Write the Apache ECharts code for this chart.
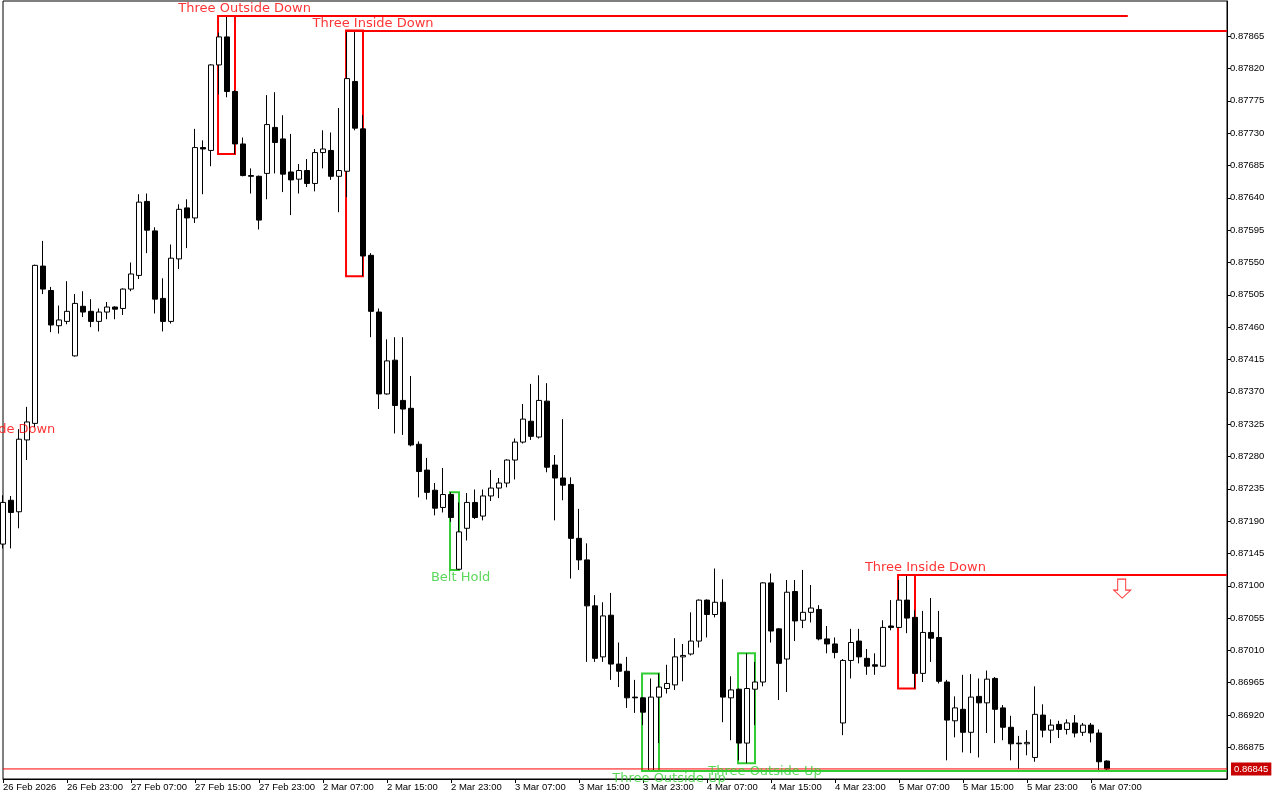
<!DOCTYPE html>
<html>
<head>
<meta charset="utf-8">
<title>H1 candles</title>
<script src="https://cdn.jsdelivr.net/npm/echarts@6.0.0/dist/echarts.min.js"></script>
<style>
  html, body { margin: 0; padding: 0; background: #fff; }
  #chart { width: 1280px; height: 800px; }
</style>
</head>
<body>
<div id="chart"></div>
<script>
// hourly bars, the first one opens 26 Feb 15:00
var days = ['26 Feb', '27 Feb', '2 Mar', '3 Mar', '4 Mar', '5 Mar', '6 Mar', '7 Mar'];
var firstHour = 15;
var slots = 154; // drawn bars plus the empty space on the right
var lastLabelBar = 136;

var open = [0.87158,0.87219,0.87203,0.87303,0.87326,0.87545,0.87511,0.87462,0.87468,0.87420,
  0.87489,0.87482,0.87468,0.87481,0.87488,0.87486,0.87513,0.87532,0.87635,0.87594,
  0.87500,0.87468,0.87555,0.87626,0.87612,0.87710,0.87706,0.87825,0.87864,0.87788,
  0.87715,0.87671,0.87670,0.87674,0.87738,0.87722,0.87676,0.87666,0.87678,0.87660,
  0.87703,0.87706,0.87670,0.87677,0.87802,0.87736,0.87560,0.87481,0.87367,0.87414,
  0.87358,0.87347,0.87297,0.87261,0.87233,0.87209,0.87227,0.87123,0.87180,0.87216,
  0.87197,0.87225,0.87236,0.87243,0.87275,0.87300,0.87329,0.87307,0.87357,0.87268,
  0.87250,0.87241,0.87166,0.87136,0.87072,0.87001,0.87059,0.86991,0.86981,0.86945,
  0.86944,0.86843,0.86945,0.86957,0.86962,0.87001,0.87005,0.87023,0.87080,0.87060,
  0.87077,0.86944,0.86956,0.86881,0.86956,0.86966,0.87104,0.87040,0.86998,0.87092,
  0.87052,0.87063,0.87067,0.87026,0.87019,0.86909,0.86996,0.87023,0.86999,0.86990,
  0.86988,0.87044,0.87042,0.87080,0.87056,0.86978,0.87035,0.87028,0.86966,0.86912,
  0.86928,0.86896,0.86946,0.86937,0.86971,0.86930,0.86903,0.86881,0.86880,0.86861,
  0.86920,0.86899,0.86907,0.86900,0.86909,0.86896,0.86906,0.86895,0.86856];
var high = [0.87226,0.87225,0.87318,0.87349,0.87547,0.87580,0.87516,0.87490,0.87524,0.87506,
  0.87510,0.87499,0.87486,0.87495,0.87489,0.87514,0.87550,0.87645,0.87646,0.87599,
  0.87528,0.87575,0.87631,0.87638,0.87736,0.87720,0.87826,0.87870,0.87893,0.87790,
  0.87724,0.87681,0.87671,0.87783,0.87787,0.87755,0.87729,0.87687,0.87694,0.87708,
  0.87734,0.87731,0.87765,0.87873,0.87873,0.87755,0.87563,0.87486,0.87443,0.87446,
  0.87446,0.87392,0.87301,0.87278,0.87243,0.87264,0.87230,0.87216,0.87229,0.87234,
  0.87234,0.87261,0.87250,0.87276,0.87305,0.87353,0.87381,0.87393,0.87382,0.87282,
  0.87332,0.87251,0.87207,0.87159,0.87087,0.87077,0.87090,0.87021,0.87001,0.86969,
  0.86945,0.86971,0.86978,0.86990,0.87027,0.87019,0.87063,0.87081,0.87081,0.87124,
  0.87109,0.86974,0.86957,0.87006,0.86994,0.87105,0.87117,0.87041,0.87108,0.87108,
  0.87122,0.87101,0.87073,0.87044,0.87028,0.86998,0.87040,0.87040,0.87012,0.87006,
  0.87052,0.87080,0.87108,0.87115,0.87066,0.87065,0.87083,0.87065,0.86969,0.86946,
  0.86976,0.86977,0.86971,0.86982,0.86973,0.86934,0.86919,0.86891,0.86899,0.86960,
  0.86935,0.86914,0.86912,0.86914,0.86920,0.86909,0.86909,0.86900,0.86857];
var low = [0.87152,0.87152,0.87180,0.87275,0.87321,0.87506,0.87453,0.87451,0.87464,0.87419,
  0.87474,0.87460,0.87454,0.87471,0.87471,0.87477,0.87510,0.87527,0.87563,0.87479,
  0.87454,0.87465,0.87541,0.87570,0.87605,0.87645,0.87684,0.87784,0.87780,0.87701,
  0.87670,0.87646,0.87596,0.87638,0.87674,0.87648,0.87616,0.87646,0.87655,0.87649,
  0.87681,0.87665,0.87620,0.87641,0.87734,0.87531,0.87446,0.87346,0.87366,0.87312,
  0.87310,0.87294,0.87223,0.87220,0.87198,0.87202,0.87189,0.87122,0.87163,0.87193,
  0.87191,0.87218,0.87222,0.87237,0.87248,0.87298,0.87303,0.87305,0.87258,0.87191,
  0.87219,0.87110,0.87122,0.86994,0.86994,0.86994,0.86969,0.86959,0.86930,0.86923,
  0.86906,0.86842,0.86881,0.86950,0.86955,0.86967,0.87003,0.87014,0.87028,0.87056,
  0.86910,0.86885,0.86857,0.86853,0.86906,0.86960,0.87021,0.86941,0.86952,0.87023,
  0.87041,0.87049,0.87024,0.87006,0.86999,0.86892,0.86971,0.86992,0.86976,0.86976,
  0.86987,0.87038,0.87041,0.87034,0.86957,0.86966,0.86994,0.86964,0.86857,0.86889,
  0.86868,0.86867,0.86861,0.86895,0.86881,0.86885,0.86857,0.86845,0.86864,0.86855,
  0.86889,0.86881,0.86888,0.86893,0.86889,0.86891,0.86882,0.86843,0.86843];
var close = [0.87216,0.87202,0.87304,0.87328,0.87546,0.87513,0.87463,0.87470,0.87482,0.87493,
  0.87481,0.87468,0.87481,0.87488,0.87485,0.87513,0.87534,0.87634,0.87595,0.87499,
  0.87468,0.87556,0.87624,0.87612,0.87710,0.87708,0.87825,0.87864,0.87788,0.87715,
  0.87671,0.87670,0.87609,0.87742,0.87717,0.87673,0.87665,0.87678,0.87660,0.87703,
  0.87708,0.87670,0.87678,0.87806,0.87737,0.87559,0.87482,0.87367,0.87413,0.87351,
  0.87346,0.87296,0.87259,0.87230,0.87208,0.87227,0.87195,0.87175,0.87216,0.87195,
  0.87225,0.87236,0.87243,0.87275,0.87300,0.87332,0.87308,0.87358,0.87265,0.87250,
  0.87240,0.87166,0.87136,0.87072,0.86999,0.87058,0.86991,0.86981,0.86944,0.86944,
  0.86924,0.86945,0.86959,0.86964,0.87001,0.87003,0.87023,0.87080,0.87060,0.87077,
  0.86945,0.86955,0.86881,0.86957,0.86966,0.87104,0.87037,0.86992,0.87091,0.87051,
  0.87063,0.87069,0.87026,0.87019,0.87007,0.86996,0.87021,0.87001,0.86988,0.86988,
  0.87042,0.87042,0.87080,0.87055,0.86978,0.87035,0.87027,0.86967,0.86913,0.86930,
  0.86896,0.86945,0.86937,0.86970,0.86928,0.86903,0.86880,0.86880,0.86882,0.86921,
  0.86899,0.86906,0.86900,0.86909,0.86895,0.86906,0.86895,0.86855,0.86845];

var yTicks = [0.86875,0.86920,0.86965,0.87010,0.87055,0.87100,0.87145,0.87190,0.87235,0.87280,
  0.87325,0.87370,0.87415,0.87460,0.87505,0.87550,0.87595,0.87640,0.87685,0.87730,
  0.87775,0.87820,0.87865];
var yMin = 0.86831, yMax = 0.87914;
var bid = 0.86845;

// candle patterns found by the indicator
var patName  = ['Three Outside Down', 'Three Inside Down', 'Belt Hold', 'Three Outside Up', 'Three Outside Up', 'Three Inside Down'];
var patFirst = [27, 43, 56, 80, 92, 112];
var patLast  = [29, 45, 57, 82, 94, 114];
var patUp    = [false, false, true, true, true, false];
var patTextAt = [30.2, 46.25, 57.2, 83.25, 95.25, 115.3];
// level lines drawn from a pattern box: [pattern, last bar reached]
var levels = [[0, 140.6], [1, 153], [3, 153], [5, 153]];
// label of a pattern whose box is left of the first bar
var cutLabel = { name: 'Three Inside Down', at: -1.02, price: 0.87307 };
var signalArrow = [139.9, 0.87096];

var RED = '#ff0000', GREEN = '#32cd32';

var categories = [];
var d = 0, h = firstHour;
while (categories.length < slots) {
  categories.push(days[d] + ' ' + (h < 10 ? '0' : '') + h + ':00');
  h++;
  if (h === 24) { h = 0; d++; }
}

var candles = open.map(function (o, i) { return [o, close[i], low[i], high[i]]; });

function boxOf(p) {
  var top = -Infinity, bottom = Infinity;
  for (var i = patFirst[p]; i <= patLast[p]; i++) {
    top = Math.max(top, high[i]);
    bottom = Math.min(bottom, low[i]);
  }
  return { x1: patFirst[p] - 0.12, x2: patLast[p], top: top, bottom: bottom };
}

var areas = [], lines = [], texts = [];
patName.forEach(function (name, p) {
  var b = boxOf(p);
  var col = patUp[p] ? GREEN : RED;
  areas.push([{ coord: [b.x1, b.top], itemStyle: { borderColor: col } }, { coord: [b.x2, b.bottom] }]);
  texts.push({
    name: name,
    value: [patTextAt[p], patUp[p] ? b.bottom : b.top],
    label: { color: col, offset: [0, patUp[p] ? 8 : -7] }
  });
});
levels.forEach(function (lv) {
  var p = lv[0], b = boxOf(p);
  var y = patUp[p] ? b.bottom : b.top;
  lines.push([{ coord: [b.x1, y], lineStyle: { color: patUp[p] ? GREEN : RED } }, { coord: [lv[1], y] }]);
});
texts.push({ name: cutLabel.name, value: [cutLabel.at, cutLabel.price], label: { color: RED, offset: [0, -7] } });

var chart = echarts.init(document.getElementById('chart'));
var showTick = function (idx) { return idx % 8 === 0 && idx <= lastLabelBar; };

chart.setOption({
  animation: false,
  backgroundColor: '#fff',
  grid: { left: 2.5, right: 53, top: 1, bottom: 21, show: true, borderColor: '#000', borderWidth: 1 },
  xAxis: [{
    type: 'category',
    data: categories,
    boundaryGap: false,
    axisLine: { onZero: false, lineStyle: { color: '#000', width: 1 } },
    axisTick: { interval: showTick, length: 4, lineStyle: { color: '#000' } },
    axisLabel: {
      interval: showTick,
      formatter: function (v, idx) { return idx === 0 ? '26 Feb 2026' : v; },
      align: 'left', margin: 3, color: '#000',
      fontFamily: 'Liberation Sans', fontSize: 9.5
    },
    splitLine: { show: false }
  }, {
    type: 'value', min: 0, max: slots - 1, show: false,
    axisLine: { onZero: false }
  }],
  yAxis: {
    type: 'value',
    position: 'right',
    min: yMin, max: yMax,
    axisLine: { show: true, onZero: false, lineStyle: { color: '#000' } },
    axisTick: { show: true, length: 4, customValues: yTicks, lineStyle: { color: '#000' } },
    axisLabel: {
      customValues: yTicks, margin: 3, color: '#000',
      fontFamily: 'Liberation Sans', fontSize: 9.5,
      formatter: function (v) { return v.toFixed(5); }
    },
    splitLine: { show: false }
  },
  series: [{
    type: 'candlestick',
    data: candles,
    barWidth: 5,
    itemStyle: { color: '#fff', color0: '#000', borderColor: '#000', borderColor0: '#000', borderWidth: 1 }
  }, {
    // bid line with its price tag on the axis
    type: 'line',
    xAxisIndex: 1,
    z: 4,
    symbol: 'none',
    silent: true,
    color: RED,
    lineStyle: { color: RED, width: 1 },
    data: [[0, bid], [slots - 1, bid]],
    endLabel: {
      show: true, distance: 4, formatter: bid.toFixed(5),
      color: '#fff', backgroundColor: '#c80000', padding: [2, 3, 1, 3],
      fontFamily: 'Liberation Sans', fontSize: 9.5
    }
  }, {
    type: 'line',
    xAxisIndex: 1,
    data: [],
    z: 5,
    markArea: {
      silent: true,
      itemStyle: { color: 'rgba(0,0,0,0)', borderWidth: 2 },
      data: areas
    },
    markLine: {
      silent: true,
      symbol: ['none', 'none'],
      label: { show: false },
      lineStyle: { width: 2, type: 'solid' },
      data: lines
    }
  }, {
    type: 'scatter',
    xAxisIndex: 1,
    clip: false,
    z: 6,
    symbolSize: 1,
    itemStyle: { color: 'rgba(0,0,0,0)' },
    label: { show: true, position: 'inside', formatter: '{b}', fontFamily: 'DejaVu Sans', fontSize: 13 },
    data: texts
  }, {
    type: 'scatter',
    xAxisIndex: 1,
    z: 6,
    symbol: 'path://M4,0 L12,0 L12,11 L17,11 L8.5,19 L0,11 L4,11 Z',
    symbolSize: [17, 19],
    itemStyle: { color: '#fff', borderColor: RED, borderWidth: 1 },
    data: [signalArrow]
  }]
});
</script>
</body>
</html>
